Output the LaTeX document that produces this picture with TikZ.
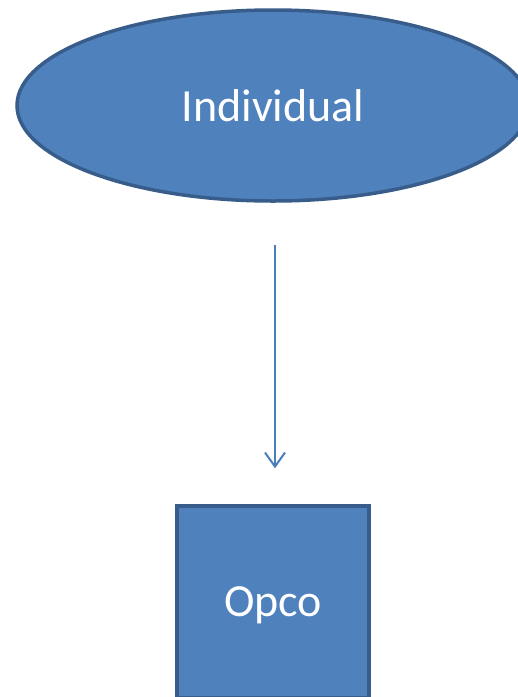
\documentclass[tikz,border=0pt]{standalone}
\usepackage{fontspec}
\setmainfont{Carlito}
\usetikzlibrary{shapes.geometric,arrows.meta}
\definecolor{shapefill}{HTML}{4F81BD}
\definecolor{shapeline}{HTML}{385D8A}
\definecolor{linkline}{HTML}{4A7EBB}
\begin{document}
\begin{tikzpicture}[x=1pt,y=-1pt,
  shapebox/.style={fill=shapefill,draw=shapeline,line width=3.5pt,
    text=white,font=\fontsize{46}{50}\selectfont,inner sep=0pt,text depth=0pt},
  link/.style={draw=linkline,line width=2pt,
    -{Straight Barb[length=14pt,width=20pt,line width=2pt]}}]
  \useasboundingbox (0,0) rectangle (518,697);
  \node[shapebox,ellipse,minimum width=512pt,minimum height=191pt] (ind) at (273,105.5) {Individual};
  \node[shapebox,rectangle,minimum width=192pt,minimum height=192pt] (opco) at (273,602) {Opco};
  \draw[link,shorten <=42pt,shorten >=36pt] ([xshift=2pt]ind.south) -- ([xshift=2pt]opco.north);
\end{tikzpicture}
\end{document}
